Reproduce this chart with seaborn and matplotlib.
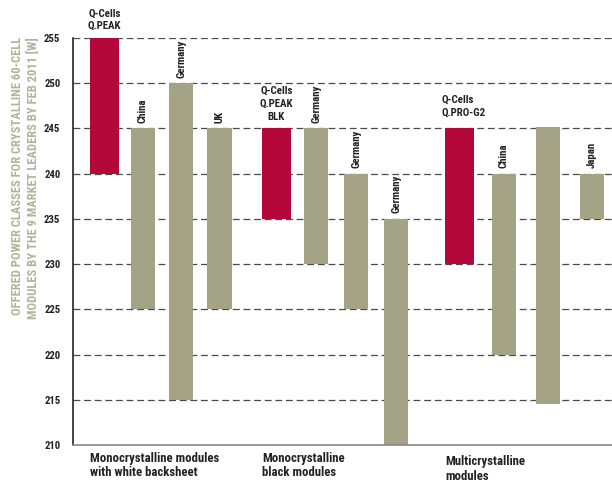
import numpy as np
import pandas as pd
import matplotlib
matplotlib.use("Agg")
import matplotlib.pyplot as plt
from matplotlib import font_manager
import seaborn as sns

# ---- data ----
bar_labels = ["Q-Cells\nQ.PEAK", "China", "Germany", "UK",
              "Q-Cells\nQ.PEAK\nBLK", "Germany", "Germany", "Germany",
              "Q-Cells\nQ.PRO-G2", "China", "", "Japan"]
low_w = [240, 225, 215, 225, 235, 230, 225, 210, 230, 220, 214.5, 235]
high_w = [255, 245, 250, 245, 245, 245, 240, 235, 245, 240, 245.2, 240]
group_idx = [0, 0, 0, 0, 1, 1, 1, 1, 2, 2, 2, 2]
is_qcells = [True, False, False, False, True, False, False, False, True, False, False, False]
group_names = ["Monocrystalline modules\nwith white backsheet",
               "Monocrystalline\nblack modules",
               "Multicrystalline\nmodules"]
y_ticks = [210, 215, 220, 225, 230, 235, 240, 245, 250, 255]
y_title = ("OFFERED POWER CLASSES FOR CRYSTALLINE 60-CELL\n"
           "MODULES BY THE 9 MARKET LEADERS BY FEB 2011 [W]")

# ---- style ----
RED = "#b30839"
OLIVE = "#a5a386"
TITLE_C = "#b3b398"

available = {f.name for f in font_manager.fontManager.ttflist}
narrow_candidates = ["Liberation Sans Narrow", "DejaVu Sans Condensed",
                     "Roboto Condensed", "Open Sans Condensed", "Noto Sans Condensed",
                     "Arial Narrow"]
narrow = [f for f in narrow_candidates if f in available]
if narrow:
    FONT = [narrow[0], "DejaVu Sans"]
    SC = 1.07
else:
    FONT = ["Roboto", "DejaVu Sans"]
    SC = 0.92

sns.set_style("white")
plt.rcParams["font.family"] = FONT

group_start = [0.0, 4.35, 8.99]
group_step = [0.97, 1.01, 1.12]
pos = []
counter = {}
for g in group_idx:
    k = counter.get(g, 0)
    pos.append(group_start[g] + k * group_step[g])
    counter[g] = k + 1

df = pd.DataFrame({"x": pos, "low": low_w, "high": high_w,
                   "label": bar_labels, "q": is_qcells, "g": group_idx})
df["h"] = df["high"] - df["low"]

fig = plt.figure(figsize=(6.12, 4.84), dpi=100)
ax = fig.add_axes([73 / 612, 39 / 484, 1 - 73 / 612, (445 - 38) / 484])

for t in y_ticks[1:]:
    ax.axhline(t, color="#4a4a4a", lw=0.9, ls=(0, (5.5, 3.0)), zorder=0)

red = df[df.q].sort_values("x")
gray = df[~df.q].sort_values("x")

def native_w(d):
    xs = np.sort(d["x"].unique())
    return np.min(np.diff(xs)) if len(xs) > 1 else 1.0

sns.barplot(data=red, x="x", y="h", native_scale=True, errorbar=None,
            width=0.73 / native_w(red), color=RED, saturation=1,
            bottom=red["low"].values, linewidth=0, ax=ax, zorder=2)
sns.barplot(data=gray, x="x", y="h", native_scale=True, errorbar=None,
            width=0.61 / native_w(gray), color=OLIVE, saturation=1,
            bottom=gray["low"].values, linewidth=0, ax=ax, zorder=2)

ax.set_ylim(210, 255)
ax.set_xlim(-0.80, 12.85)
ax.set_yticks(y_ticks)
ax.set_yticklabels([str(t) for t in y_ticks], fontsize=7.2 * SC, fontweight="bold",
                   color="#222222")
ax.tick_params(axis="y", length=0, pad=9)
ax.set_xticks([])
ax.set_xlabel("")
ax.set_ylabel("")
for s in ["top", "right"]:
    ax.spines[s].set_visible(False)
ax.spines["left"].set_color("#111111")
ax.spines["left"].set_linewidth(1.1)
ax.spines["bottom"].set_color("#888888")
ax.spines["bottom"].set_linewidth(1.2)

LAB = 7.3 * SC
for _, r in df.iterrows():
    if not r["label"]:
        continue
    if r["q"]:
        if r["g"] == 2:
            ax.annotate(r["label"], (r["x"] - 0.365, r["high"]), xytext=(-3, 8),
                        textcoords="offset points", ha="left", va="bottom",
                        fontsize=LAB, fontweight="bold", annotation_clip=False,
                        linespacing=1.35, color="#222222")
        else:
            ax.annotate(r["label"], (r["x"], r["high"]), xytext=(0, 5),
                        textcoords="offset points", ha="center", va="bottom",
                        fontsize=LAB, fontweight="bold", annotation_clip=False,
                        linespacing=1.35, color="#222222")
    else:
        ax.annotate(r["label"], (r["x"], r["high"]), xytext=(0, 4),
                    textcoords="offset points", ha="center", va="bottom",
                    rotation=90, fontsize=LAB, fontweight="bold",
                    annotation_clip=False, color="#222222")

for g, name in enumerate(group_names):
    rx = red[red.g == g]["x"].iloc[0] - 0.365
    dy = -5 if g < 2 else -7.5
    ax.annotate(name, (rx, 210), xytext=(0, dy), textcoords="offset points",
                ha="left", va="top", fontsize=8.6 * SC, fontweight="bold",
                color="#222222", annotation_clip=False, linespacing=1.12)

fig.text(26 / 612, 1 - 37 / 484, y_title, rotation=90, ha="center", va="top",
         multialignment="right", fontsize=8.4 * SC, fontweight="bold", color=TITLE_C,
         linespacing=1.3)

fig.savefig("out.png", dpi=100)
